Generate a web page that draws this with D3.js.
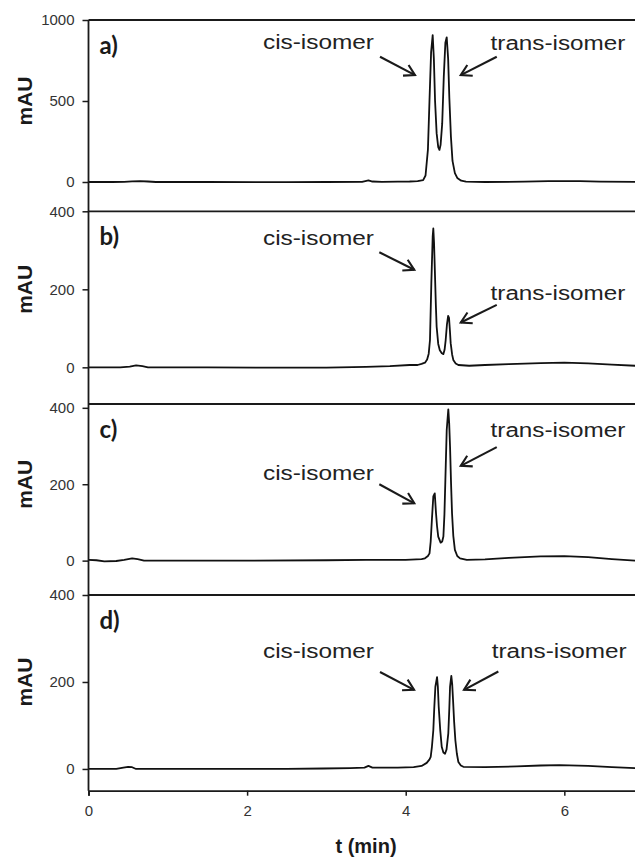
<!DOCTYPE html>
<html>
<head>
<meta charset="utf-8">
<script src="https://cdn.jsdelivr.net/npm/d3@7/dist/d3.min.js"></script>
<style>
  html, body { margin: 0; padding: 0; background: #fff; }
  svg { display: block; font-family: "Liberation Sans", Arial, Helvetica, sans-serif; }
</style>
</head>
<body>
<svg id="chart" width="635" height="858"></svg>
<script>
// ---------- data (t in min, signal in mAU) ----------
const panelNames = ["a)", "b)", "c)", "d)"];
const yDomains = [[-179, 1000], [-94, 400], [-90, 410], [-50, 400]];
const yTicks = [[0, 500, 1000], [0, 200, 400], [0, 200, 400], [0, 200, 400]];
const xTicks = [0, 2, 4, 6];

const traceA = [[0,0],[0.3,0],[0.45,1],[0.55,4],[0.65,5],[0.75,3],[0.85,0],[1.5,0],[2.5,-1],[3.0,0],[3.45,1],[3.53,10],[3.58,3],[3.7,1],[3.9,2],[4.05,3],[4.15,6],[4.22,12],[4.25,40],[4.28,200],[4.30,506],[4.32,800],[4.34,907],[4.355,760],[4.37,500],[4.39,300],[4.41,215],[4.425,198],[4.44,230],[4.46,360],[4.48,650],[4.50,860],[4.517,893],[4.535,760],[4.55,520],[4.57,280],[4.59,130],[4.62,55],[4.65,25],[4.70,8],[4.76,2],[5.0,0],[5.5,2],[5.8,5],[6.2,5],[6.45,2],[6.9,1]];
const traceB = [[0,0],[0.4,0],[0.52,2],[0.6,5],[0.68,3],[0.75,0],[1.5,0],[2.2,-1],[3.0,-1],[3.5,1],[3.8,3],[4.05,6],[4.15,6],[4.2,9],[4.243,12],[4.27,20],[4.29,35],[4.306,70],[4.323,215],[4.34,335],[4.348,356],[4.357,320],[4.366,258],[4.38,160],[4.39,104],[4.41,60],[4.43,44],[4.455,36],[4.475,34],[4.49,45],[4.504,70],[4.52,110],[4.535,132],[4.546,127],[4.557,95],[4.567,62],[4.585,33],[4.60,19],[4.63,10],[4.664,6],[4.8,4],[5.0,6],[5.3,8],[5.7,11],[6.0,12],[6.3,10],[6.6,7],[6.9,4]];
const traceC = [[0,2],[0.1,1],[0.2,-2],[0.35,-1],[0.45,2],[0.55,6],[0.62,4],[0.7,0],[1.2,0],[2.0,0],[3.0,1],[3.5,2],[4.0,2],[4.2,4],[4.243,6],[4.28,12],[4.30,19],[4.315,50],[4.33,107],[4.348,168],[4.366,176],[4.382,124],[4.395,90],[4.41,63],[4.44,47],[4.46,50],[4.475,63],[4.488,120],[4.50,211],[4.517,342],[4.537,396],[4.548,360],[4.559,298],[4.572,200],[4.584,124],[4.60,65],[4.62,28],[4.65,12],[4.685,6],[4.77,2],[5.0,3],[5.3,7],[5.7,11],[6.0,12],[6.3,9],[6.6,4],[6.9,0]];
const traceD = [[0,0],[0.35,0],[0.44,3],[0.5,5],[0.55,4],[0.6,0],[1.5,0],[2.5,0],[2.96,1],[3.3,2],[3.48,3],[3.53,7],[3.58,3],[3.9,3],[4.1,4],[4.2,7],[4.265,14],[4.30,22],[4.315,28],[4.33,50],[4.348,89],[4.36,140],[4.374,189],[4.395,211],[4.405,190],[4.416,143],[4.435,90],[4.454,51],[4.475,38],[4.496,35],[4.515,45],[4.537,82],[4.55,140],[4.559,189],[4.575,214],[4.586,195],[4.597,158],[4.61,110],[4.626,66],[4.645,35],[4.664,16],[4.695,8],[4.727,5],[5.0,4],[5.4,6],[5.7,8],[5.94,9],[6.3,7],[6.6,4],[6.9,2]];
const traces = [traceA, traceB, traceC, traceD];

// annotation labels: [text, tStart, tEnd, baseline mAU]
const cisLabels   = [["cis-isomer", 2.20, 3.60, 821], ["cis-isomer", 2.20, 3.60, 314], ["cis-isomer", 2.20, 3.60, 211], ["cis-isomer", 2.20, 3.60, 255]];
const transLabels = [["trans-isomer", 5.07, 6.77, 815], ["trans-isomer", 5.07, 6.77, 173], ["trans-isomer", 5.07, 6.77, 324], ["trans-isomer", 5.084, 6.787, 254]];
// arrows: [tFrom, vFrom, tTo, vTo]
const cisArrows   = [[3.676, 773, 4.117, 660], [3.667, 295, 4.108, 250], [3.667, 200, 4.108, 150], [3.676, 223, 4.105, 182]];
const transArrows = [[5.148, 773, 4.694, 660], [5.148, 160, 4.694, 115], [5.148, 297, 4.694, 248], [5.168, 224, 4.735, 182]];

// ---------- layout ----------
const svg = d3.select("#chart");
const x = d3.scaleLinear().domain([0, 6.9]).range([88.5, 635.7]);
const panelRanges = [[211, 20], [404, 211.3], [595, 404], [790.7, 595]];
const yScales = yDomains.map((d, i) => d3.scaleLinear().domain(d).range(panelRanges[i]));
const ink = "#1a1a1a";
const FONT = "'Liberation Sans', Arial, Helvetica, sans-serif";

const line = (ys) => d3.line().x(d => x(d[0])).y(d => ys(d[1])).curve(d3.curveLinear);

yScales.forEach((ys, i) => {
  const g = svg.append("g");
  // top border of panel
  g.append("line")
    .attr("x1", x(0)).attr("x2", x(6.9))
    .attr("y1", ys(ys.domain()[1])).attr("y2", ys(ys.domain()[1]))
    .attr("stroke", ink).attr("stroke-width", 1.8);

  // y axis ticks
  const ax = g.append("g").attr("transform", `translate(${x(0)},0)`)
    .call(d3.axisLeft(ys).tickValues(yTicks[i]).tickSize(6).tickPadding(8).tickFormat(d3.format("d")));
  ax.attr("font-family", null).attr("font-size", null);
  ax.select(".domain").remove();
  ax.selectAll(".tick line").attr("stroke", ink).attr("stroke-width", 1.5);
  ax.selectAll(".tick text").attr("fill", "#333")
    .attr("font-family", FONT).attr("font-size", 15);

  // trace
  g.append("path").datum(traces[i])
    .attr("d", line(ys))
    .attr("fill", "none").attr("stroke", "#111").attr("stroke-width", 1.8)
    .attr("stroke-linejoin", "round");

  // panel letter
  g.append("text").text(panelNames[i])
    .attr("x", x(0) + 11).attr("y", ys(ys.domain()[1]) + 33.5)
    .attr("font-family", "Lato, " + FONT).attr("font-weight", "bold")
    .attr("font-size", 24).attr("fill", ink);

  // mAU label
  const yc = (ys(0) + ys(yTicks[i][2])) / 2;
  g.append("text").text("mAU")
    .attr("transform", `translate(32,${yc}) rotate(-90)`)
    .attr("text-anchor", "middle")
    .attr("font-family", FONT).attr("font-weight", "bold")
    .attr("font-size", 21).attr("fill", ink);

  // annotations
  [cisLabels[i], transLabels[i]].forEach(lab => {
    g.append("text").text(lab[0])
      .attr("x", x(lab[1])).attr("y", ys(lab[3]))
      .attr("textLength", x(lab[2]) - x(lab[1])).attr("lengthAdjust", "spacingAndGlyphs")
      .attr("font-family", FONT)
      .attr("font-size", 20).attr("fill", "#222");
  });
  [cisArrows[i], transArrows[i]].forEach(a => {
    const x1 = x(a[0]), y1 = ys(a[1]), x2 = x(a[2]), y2 = ys(a[3]);
    const ang = Math.atan2(y2 - y1, x2 - x1);
    const L = 12, spread = Math.PI / 6;
    g.append("line").attr("x1", x1).attr("y1", y1).attr("x2", x2).attr("y2", y2)
      .attr("stroke", ink).attr("stroke-width", 2.1);
    g.append("path")
      .attr("d", `M${x2 - L * Math.cos(ang - spread)},${y2 - L * Math.sin(ang - spread)}L${x2},${y2}L${x2 - L * Math.cos(ang + spread)},${y2 - L * Math.sin(ang + spread)}`)
      .attr("fill", "none").attr("stroke", ink).attr("stroke-width", 2.1).attr("stroke-linejoin", "miter");
  });
});

// left vertical axis line spanning all panels
const yTop = yScales[0](yDomains[0][1]);
const yBot = yScales[3](yDomains[3][0]);
svg.append("line").attr("x1", x(0)).attr("x2", x(0)).attr("y1", yTop).attr("y2", yBot)
  .attr("stroke", ink).attr("stroke-width", 1.8);

// bottom axis
const bx = svg.append("g").attr("transform", `translate(0,${yBot})`)
  .call(d3.axisBottom(x).tickValues(xTicks).tickSize(5).tickPadding(10).tickFormat(d3.format("d")));
bx.attr("font-family", null).attr("font-size", null);
bx.select(".domain").attr("stroke", ink).attr("stroke-width", 1.8);
bx.selectAll(".tick line").attr("stroke", ink).attr("stroke-width", 1.5);
bx.selectAll(".tick text").attr("fill", "#333").attr("font-family", FONT).attr("font-size", 15);

svg.append("text").text("t (min)")
  .attr("x", 366).attr("y", 853).attr("text-anchor", "middle")
  .attr("font-family", FONT).attr("font-weight", "bold")
  .attr("font-size", 20).attr("fill", ink);
</script>
</body>
</html>
